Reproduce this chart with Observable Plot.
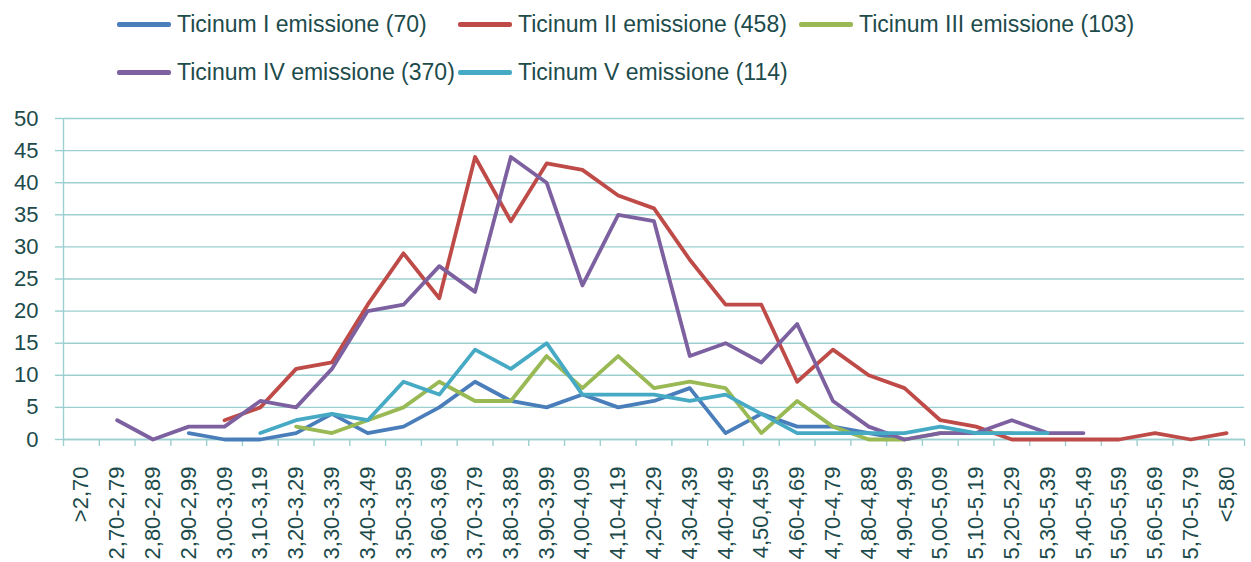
<!DOCTYPE html>
<html>
<head>
<meta charset="utf-8">
<script src="https://cdn.jsdelivr.net/npm/d3@7"></script>
<script src="https://cdn.jsdelivr.net/npm/@observablehq/plot@0.6"></script>
<style>
  html, body { margin: 0; padding: 0; background: #ffffff; }
  #wrap { width: 1251px; height: 562px; overflow: hidden; position: relative; background: #fff; }
  #legend { position: relative; width: 1251px; height: 95px; font-family: "Liberation Sans", Arial, sans-serif; font-size: 23px; color: #1d4b4b; }
  #legend .grid { position: absolute; left: 117px; top: 0; display: grid; grid-template-columns: 341px 341px 341px; grid-auto-rows: 48px; }
  #legend .item { display: flex; align-items: center; white-space: nowrap; }
  #legend .sw { width: 54px; height: 5px; border-radius: 2px; margin-right: 6px; }
  svg { display: block; }
</style>
</head>
<body>
<div id="wrap">
  <div id="legend"><div class="grid"></div></div>
  <div id="chart"></div>
</div>
<script>
const categories = [">2,70","2,70-2,79","2,80-2,89","2,90-2,99","3,00-3,09","3,10-3,19","3,20-3,29","3,30-3,39","3,40-3,49","3,50-3,59","3,60-3,69","3,70-3,79","3,80-3,89","3,90-3,99","4,00-4,09","4,10-4,19","4,20-4,29","4,30-4,39","4,40-4,49","4,50,4,59","4,60-4,69","4,70-4,79","4,80-4,89","4,90-4,99","5,00-5,09","5,10-5,19","5,20-5,29","5,30-5,39","5,40-5,49","5,50-5,59","5,60-5,69","5,70-5,79","<5,80"];

const seriesNames = ["Ticinum I emissione (70)","Ticinum II emissione (458)","Ticinum III emissione (103)","Ticinum IV emissione (370)","Ticinum V emissione (114)"];
const seriesColors = ["#4a7ebb","#be4b48","#98b954","#7d60a0","#46aac5"];

const ticinumI   = [null,null,null,1,0,0,1,4,1,2,5,9,6,5,7,5,6,8,1,4,2,2,1,0];
const ticinumII  = [null,null,null,null,3,5,11,12,21,29,22,44,34,43,42,38,36,28,21,21,9,14,10,8,3,2,0,0,0,0,1,0,1];
const ticinumIII = [null,null,null,null,null,null,2,1,3,5,9,6,6,13,8,13,8,9,8,1,6,2,0,0,1,1,1];
const ticinumIV  = [null,3,0,2,2,6,5,11,20,21,27,23,44,40,24,35,34,13,15,12,18,6,2,0,1,1,3,1,1];
const ticinumV   = [null,null,null,null,null,1,3,4,3,9,7,14,11,15,7,7,7,6,7,4,1,1,1,1,2,1,1,1];

const yTicks = [0,5,10,15,20,25,30,35,40,45,50];

const seriesValues = [ticinumI, ticinumII, ticinumIII, ticinumIV, ticinumV];
const rows = [];
seriesValues.forEach((vals, s) => {
  vals.forEach((v, i) => { if (v !== null) rows.push({name: seriesNames[s], i, v}); });
});

// Legend
const lg = document.querySelector("#legend .grid");
seriesNames.forEach((n, k) => {
  const it = document.createElement("div");
  it.className = "item";
  const sw = document.createElement("div");
  sw.className = "sw";
  sw.style.background = seriesColors[k];
  const tx = document.createElement("span");
  tx.textContent = n;
  it.appendChild(sw); it.appendChild(tx);
  lg.appendChild(it);
});

const axisColor = "#9ccfcf";
const textColor = "#1d4b4b";
const idx = categories.map((c, i) => i);
const bounds = categories.map((c, i) => i - 0.5).concat([categories.length - 0.5]);

const chart = Plot.plot({
  width: 1251,
  height: 467,
  marginTop: 23,
  marginLeft: 63,
  marginRight: 7,
  marginBottom: 123,
  style: {fontFamily: "'Liberation Sans', Arial, sans-serif", fontSize: "22px", color: textColor, background: "#fff", overflow: "visible"},
  x: {domain: [-0.5, categories.length - 0.5], axis: null},
  y: {domain: [0, 50], axis: null},
  color: {domain: seriesNames, range: seriesColors},
  marks: [
    Plot.gridY(yTicks, {stroke: axisColor, strokeOpacity: 1, strokeWidth: 1.4}),
    Plot.axisY(yTicks, {tickSize: 8, tickPadding: 17, stroke: axisColor, strokeWidth: 1.4, fill: textColor, fontSize: 22, label: null}),
    Plot.ruleX([-0.5], {stroke: axisColor, strokeWidth: 1.4}),
    Plot.ruleY([0], {stroke: axisColor, strokeWidth: 1.4}),
    Plot.axisX(bounds, {tickSize: 7, tickFormat: () => "", stroke: axisColor, strokeWidth: 1.4, label: null}),
    Plot.axisX(idx, {tickSize: 0, tickPadding: 27, tickRotate: -90, tickFormat: i => categories[i], fill: textColor, fontSize: 22, label: null}),
    Plot.line(rows, {x: "i", y: "v", z: "name", stroke: "name", strokeWidth: 3.8})
  ]
});
document.getElementById("chart").appendChild(chart);
</script>
</body>
</html>
